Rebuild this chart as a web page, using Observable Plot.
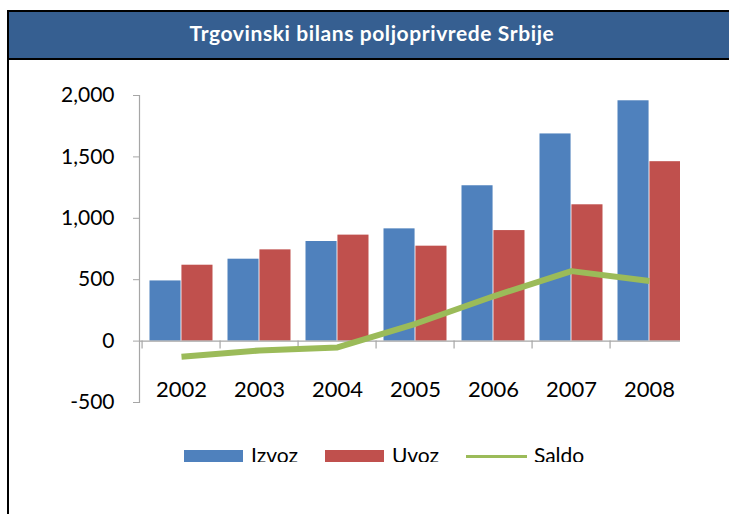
<!DOCTYPE html>
<html>
<head>
<meta charset="utf-8">
<script src="https://cdn.jsdelivr.net/npm/d3@7"></script>
<script src="https://cdn.jsdelivr.net/npm/@observablehq/plot@0.6"></script>
<style>
  html, body { margin: 0; padding: 0; background: #fff; }
  #page { position: relative; width: 729px; height: 514px; overflow: hidden; font-family: Lato, "Noto Sans", sans-serif; }
  #frame { position: absolute; left: 7px; top: 10px; width: 722px; height: 504px; border-left: 2px solid #000; border-top: 2px solid #000; box-sizing: border-box; }
  #title { position: absolute; left: 9px; top: 12px; width: 720px; height: 46px; background: #365F91; border-bottom: 2px solid #000; color: #fff; font-weight: bold; font-size: 21px; letter-spacing: 0.6px; line-height: 46px; text-align: center; box-sizing: content-box; }
  #title span { position: relative; left: 3px; top: -2px; }
  #chart { position: absolute; left: 0; top: 60px; width: 680px; height: 402px; overflow: hidden; }
  #chart svg { max-width: none !important; }
  #legend { position: absolute; left: 184px; top: 440px; height: 22px; overflow: hidden; display: flex; align-items: flex-start; font-size: 21px; color: #000; }
  .item { display: flex; align-items: flex-start; margin-right: 27px; }
  .sw { width: 59px; height: 16px; margin-top: 10px; margin-right: 8px; }
  .ln { width: 61px; height: 3px; margin-top: 15px; margin-right: 7px; }
  .lab { line-height: 22px; margin-top: 4px; }
</style>
</head>
<body>
<div id="page">
  <div id="frame"></div>
  <div id="title"><span>Trgovinski bilans poljoprivrede Srbije</span></div>
  <div id="chart"></div>
  <div id="legend"></div>
</div>
<script>
const years = ["2002", "2003", "2004", "2005", "2006", "2007", "2008"];
const izvoz = [490, 667, 811, 914, 1265, 1687, 1957];
const uvoz = [618, 743, 863, 773, 900, 1110, 1461];
const saldo = [-128, -76, -52, 141, 365, 570, 490];
const yTicks = [-500, 0, 500, 1000, 1500, 2000];
const seriesNames = ["Izvoz", "Uvoz", "Saldo"];
const colors = ["#4F81BD", "#C0504D", "#9BBB59"];

const exportRows = years.map((y, i) => ({year: y, value: izvoz[i]}));
const importRows = years.map((y, i) => ({year: y, value: uvoz[i]}));
const saldoRows = years.map((y, i) => ({year: y, value: saldo[i]}));

const W = 729, H = 380, ML = 139, MR = 38;
const bw = (W - ML - MR) / years.length;
const fmt = d => d3.format(",")(d).replace("\u2212", "-");

const chart = Plot.plot({
  width: W,
  height: H,
  marginLeft: ML,
  marginRight: MR,
  marginTop: 35,
  marginBottom: 38,
  style: {fontFamily: "Lato, 'Noto Sans', sans-serif", background: "transparent", color: "#000", maxWidth: "none"},
  x: {type: "band", domain: years, paddingInner: 0, paddingOuter: 0, label: null},
  y: {domain: [-500, 2000], label: null},
  marks: [
    Plot.barY(exportRows, {x: "year", y: "value", fill: colors[0], insetLeft: 7.5, insetRight: bw / 2})
    ,Plot.barY(importRows, {x: "year", y: "value", fill: colors[1], insetLeft: bw / 2, insetRight: 7.5})
    ,Plot.ruleY([0], {stroke: "#A6A6A6", strokeWidth: 1.2})
    ,Plot.ruleX(years, {x: d => d, y1: 0, y2: 0, insetBottom: -8, stroke: "#A6A6A6", strokeWidth: 1.2, dx: -bw / 2})
    ,Plot.frame({anchor: "left", stroke: "#A6A6A6", strokeWidth: 1.2})
    ,Plot.line(saldoRows, {x: "year", y: "value", stroke: colors[2], strokeWidth: 6, strokeLinejoin: "round", strokeLinecap: "butt"})
    ,Plot.axisY({ticks: yTicks, tickFormat: fmt, tickSize: 6, tickPadding: 19, fontSize: 21, stroke: "#A6A6A6", label: null})
    ,Plot.axisX({tickSize: 0, tickPadding: 0, dy: -21, fontSize: 22, label: null})
  ]
});
document.getElementById("chart").appendChild(chart);

const legend = document.getElementById("legend");
seriesNames.forEach((name, i) => {
  const item = document.createElement("div");
  item.className = "item";
  const sw = document.createElement("div");
  sw.className = i < 2 ? "sw" : "ln";
  sw.style.background = colors[i];
  const lab = document.createElement("div");
  lab.className = "lab";
  lab.textContent = name;
  item.appendChild(sw);
  item.appendChild(lab);
  legend.appendChild(item);
});
</script>
</body>
</html>
